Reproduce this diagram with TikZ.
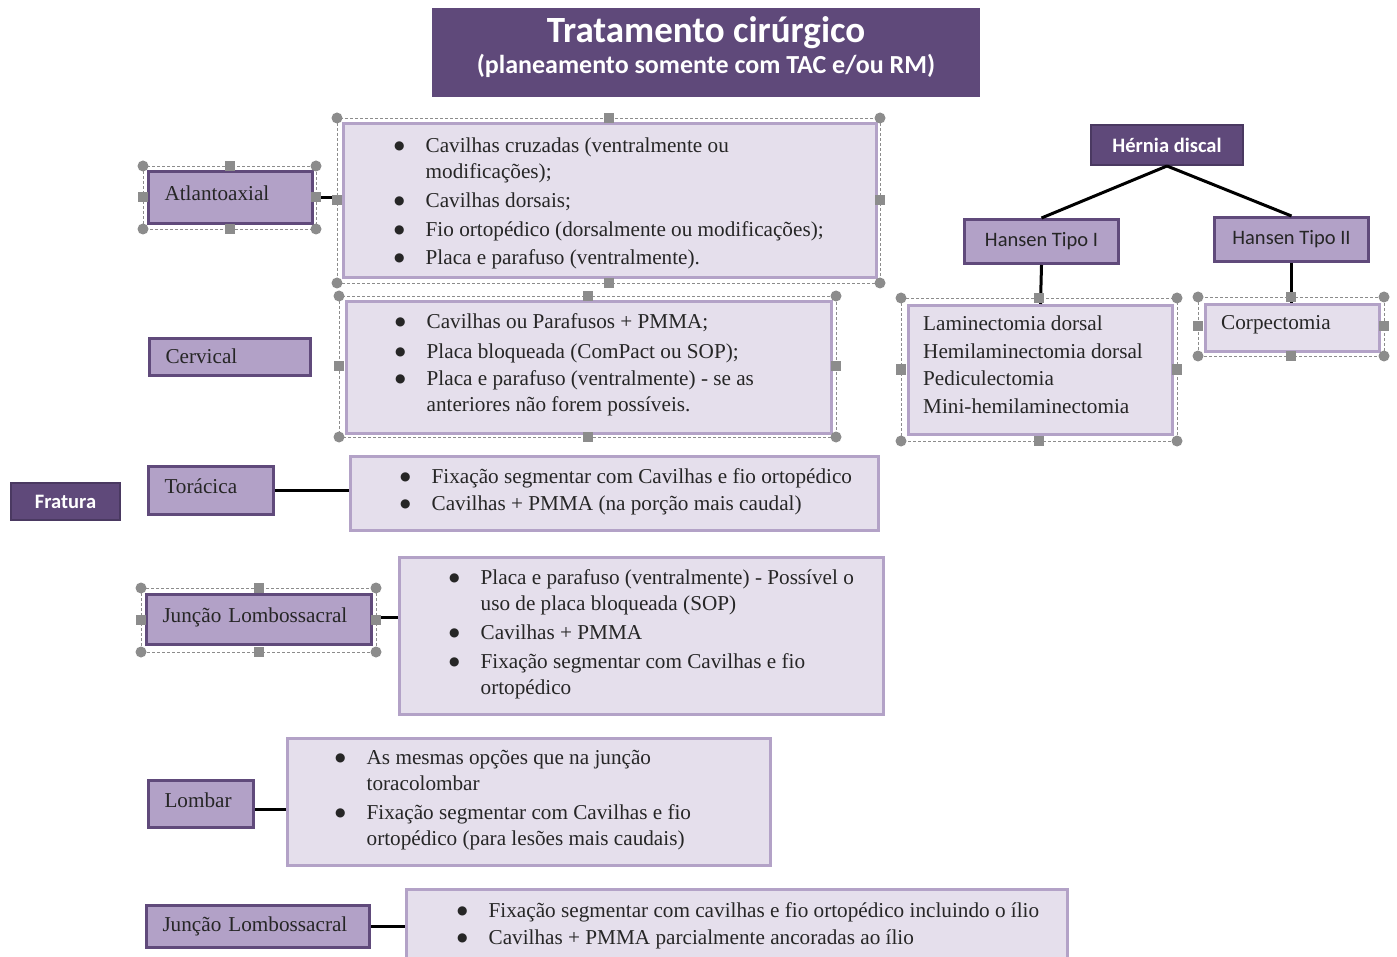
\documentclass[tikz,border=0pt]{standalone}
\usepackage{fontspec}
\setmainfont{Liberation Serif}
\newfontfamily\calib{Carlito}
\newfontfamily\dejavu{DejaVu Sans}
\definecolor{darkp}{HTML}{5F497A}
\definecolor{darkb}{HTML}{4A3961}
\definecolor{labfill}{HTML}{B2A1C7}
\definecolor{labline}{HTML}{604A7B}
\definecolor{boxfill}{HTML}{E5DFEC}
\definecolor{boxline}{HTML}{B3A2C7}
\definecolor{hgrey}{HTML}{8C8C8C}
\newcommand\bodyfont{\fontsize{21.2}{26}\selectfont}
\newcommand\selframe[4]{%
  \draw[hgrey, densely dashed, line width=0.8pt] (#1,#2) rectangle (#3,#4);
  \foreach \px in {#1,#3}{\foreach \py in {#2,#4}{\fill[hgrey] (\px,\py) circle (5.5);}}
  \fill[hgrey] ({(#1+#3)/2-5},{#2-5}) rectangle ++(10,10);
  \fill[hgrey] ({(#1+#3)/2-5},{#4-5}) rectangle ++(10,10);
  \fill[hgrey] ({#1-5},{(#2+#4)/2-5}) rectangle ++(10,10);
  \fill[hgrey] ({#3-5},{(#2+#4)/2-5}) rectangle ++(10,10);
}
\tikzset{
  lab/.style={draw=labline, fill=labfill, line width=3pt, anchor=north west, inner xsep=16pt, inner ysep=0pt, align=left, font=\bodyfont, text=black!85},
  optbox/.style={draw=boxline, fill=boxfill, line width=3pt, anchor=north west, inner sep=0pt},
  dark/.style={draw=darkb, fill=darkp, line width=2pt, anchor=north west, inner sep=0pt, text=white, font=\calib\bfseries\fontsize{20.5}{24}\selectfont},
  hans/.style={draw=labline, fill=labfill, line width=3pt, anchor=north west, inner sep=0pt, text=black!85, font=\calib\fontsize{20.5}{24}\selectfont},
  list/.style={anchor=west, inner sep=0pt, align=left, font=\bodyfont, text=black!85},
  conn/.style={line width=3pt, black}
}
\newcommand\bl{\raisebox{3pt}{\dejavu\fontsize{12}{12}\selectfont ●}}
\begin{document}
\begin{tikzpicture}[x=1pt,y=-1pt]
\clip (0,0) rectangle (1397,957);
\fill[white] (0,0) rectangle (1397,957);

% title
\node[dark, draw=darkp, minimum width=546pt, minimum height=87pt, align=center, font=\calib\bfseries] (title) at (432,8)
  {{\fontsize{37}{40}\selectfont Tratamento cirúrgico}\\[5pt]{\fontsize{26}{28}\selectfont (planeamento somente com TAC e/ou RM)}\\[3pt]};

% left labels
\node[lab, minimum height=52pt, text width=132pt] (atl) at (147,170) {\raisebox{9pt}{Atlantoaxial}};
\node[lab, minimum height=37pt, text width=129pt] (cer) at (148,337) {\raisebox{1pt}{Cervical}};
\node[lab, minimum height=48pt, text width=93pt] (tor) at (147,465) {\raisebox{8pt}{Torácica}};
\node[dark, minimum width=109pt, minimum height=37pt] (fra) at (10,482) {Fratura};
\node[lab, minimum height=50pt, text width=193pt] (jl1) at (145,593) {\raisebox{9pt}{Junção Lombossacral}};
\node[lab, minimum height=47pt, text width=73pt] (lom) at (147,779) {\raisebox{8pt}{Lombar}};
\node[lab, minimum height=42pt, text width=191pt] (jl2) at (145,904) {\raisebox{1pt}{Junção Lombossacral}};

% option boxes
\node[optbox, minimum width=533pt, minimum height=154pt] (ob1) at (342,122) {};
\node[optbox, minimum width=485pt, minimum height=132pt] (ob2) at (345,300) {};
\node[optbox, minimum width=528pt, minimum height=74pt] (ob3) at (349,455) {};
\node[optbox, minimum width=484pt, minimum height=157pt] (ob4) at (398,556) {};
\node[optbox, minimum width=483pt, minimum height=127pt] (ob5) at (286,737) {};
\node[optbox, minimum width=661pt, minimum height=100pt] (ob6) at (405,888) {};

% lists
\node[list] (l1) at ([xshift=52pt,yshift=-3pt]ob1.west) {\begin{tabular}{@{}l@{\hspace{21pt}}l@{}}
\bl & Cavilhas cruzadas (ventralmente ou\\
 & modificações);\\[3pt]
\bl & Cavilhas dorsais;\\[3pt]
\bl & Fio ortopédico (dorsalmente ou modificações);\\[2pt]
\bl & Placa e parafuso (ventralmente).
\end{tabular}};
\node[list] (l2) at ([xshift=50pt,yshift=3pt]ob2.west) {\begin{tabular}{@{}l@{\hspace{21pt}}l@{}}
\bl & Cavilhas ou Parafusos + PMMA;\\[4pt]
\bl & Placa bloqueada (ComPact ou SOP);\\[1pt]
\bl & Placa e parafuso (ventralmente) - se as\\
 & anteriores não forem possíveis.
\end{tabular}};
\node[list] (l3) at ([xshift=51pt,yshift=2pt]ob3.west) {\begin{tabular}{@{}l@{\hspace{21pt}}l@{}}
\bl & Fixação segmentar com Cavilhas e fio ortopédico\\[1pt]
\bl & Cavilhas + PMMA (na porção mais caudal)
\end{tabular}};
\node[list] (l4) at ([xshift=51pt,yshift=2pt]ob4.west) {\begin{tabular}{@{}l@{\hspace{21pt}}l@{}}
\bl & Placa e parafuso (ventralmente) - Possível o\\
 & uso de placa bloqueada (SOP)\\[3pt]
\bl & Cavilhas + PMMA\\[3pt]
\bl & Fixação segmentar com Cavilhas e fio\\
 & ortopédico
\end{tabular}};
\node[list] (l5) at ([xshift=49pt,yshift=2pt]ob5.west) {\begin{tabular}{@{}l@{\hspace{21pt}}l@{}}
\bl & As mesmas opções que na junção\\
 & toracolombar\\[3pt]
\bl & Fixação segmentar com Cavilhas e fio\\
 & ortopédico (para lesões mais caudais)
\end{tabular}};
\node[list, anchor=north west] (l6) at ([xshift=52pt,yshift=-11pt]ob6.north west) {\begin{tabular}{@{}l@{\hspace{21pt}}l@{}}
\bl & Fixação segmentar com cavilhas e fio ortopédico incluindo o ílio\\[1pt]
\bl & Cavilhas + PMMA parcialmente ancoradas ao ílio
\end{tabular}};

% connectors (left)
\draw[conn] (atl.east) -- (atl.east -| ob1.west);
\draw[conn] (tor.east) -- (tor.east -| ob3.west);
\draw[conn] ([yshift=2pt]jl1.east) -- ([yshift=2pt]jl1.east -| ob4.west);
\draw[conn] ([yshift=-5pt]lom.east) -- ([yshift=-5pt]lom.east -| ob5.west);
\draw[conn] (jl2.east) -- (jl2.east -| ob6.west);

% hernia discal
\node[dark, minimum width=152pt, minimum height=40pt] (hd) at (1090,124) {Hérnia discal};
\node[hans, minimum width=154pt, minimum height=44pt] (h1) at (963,218) {Hansen Tipo I};
\node[hans, minimum width=154pt, minimum height=44pt] (h2) at (1213,216) {Hansen Tipo II};
\node[optbox, minimum width=264pt, minimum height=129pt] (lam) at (907,304) {};
\node[optbox, minimum width=174pt, minimum height=47pt] (cor) at (1204,303) {};
\node[list] (lamt) at ([xshift=16pt,yshift=3pt]lam.west) {\begin{tabular}{@{}l@{}}
Laminectomia dorsal\\[1.5pt]
Hemilaminectomia dorsal\\[1.5pt]
Pediculectomia\\[1.5pt]
Mini-hemilaminectomia
\end{tabular}};
\node[list] (cort) at ([xshift=17pt,yshift=3pt]cor.west) {Corpectomia};
\draw[conn] (hd.south) -- (h1.north);
\draw[conn] (hd.south) -- (h2.north);
\draw[conn] (h1.south) -- (lam.north);
\draw[conn] (h2.south) -- (h2.south |- cor.north);

% selection handles
\selframe{143}{166}{316}{229}
\selframe{337}{118}{880}{283}
\selframe{339}{296}{836}{437}
\selframe{141}{588}{376}{652}
\selframe{901}{298}{1177}{441}
\selframe{1198}{297}{1384}{356}
\end{tikzpicture}
\end{document}
